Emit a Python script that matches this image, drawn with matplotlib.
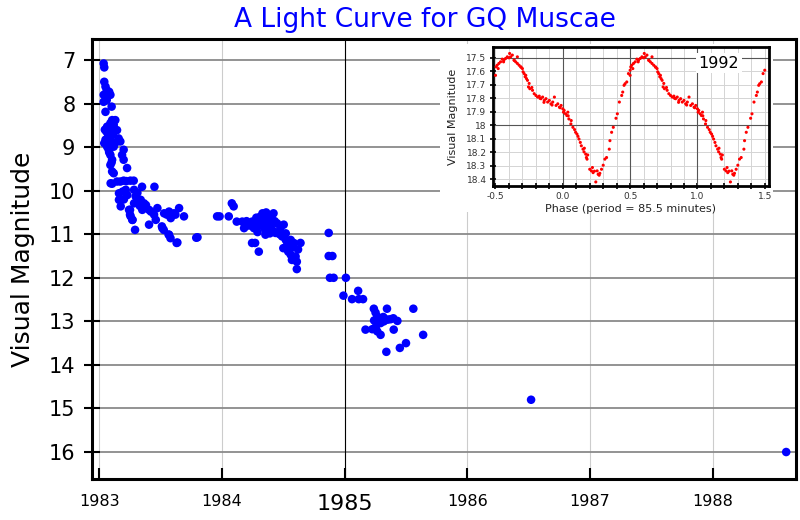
import matplotlib
matplotlib.use('Agg')
import matplotlib.pyplot as plt
from matplotlib.patches import Rectangle
import numpy as np

# Visual magnitude estimates of the nova, 1983 - 1988
years = [
    1983.035, 1983.04, 1983.04, 1983.05, 1983.06, 1983.08, 1983.035, 1983.06, 1983.09, 1983.06,
    1983.035, 1983.10, 1983.05,
    1983.104, 1983.13, 1983.117, 1983.09, 1983.063, 1983.057, 1983.104, 1983.144, 1983.157, 1983.076,
    1983.05, 1983.09, 1983.063, 1983.117, 1983.171, 1983.04, 1983.07, 1983.11, 1983.045, 1983.085, 1983.13,
    1983.198, 1983.185, 1983.198, 1983.09, 1983.104, 1983.09, 1983.104, 1983.117, 1983.226, 1983.076,
    1983.08, 1983.10,
    1983.104, 1983.144, 1983.171, 1983.198, 1983.253, 1983.28, 1983.348, 1983.449, 1983.092, 1983.22,
    1983.16, 1983.16, 1983.174, 1983.228, 1983.283, 1983.296, 1983.283, 1983.337, 1983.364, 1983.242,
    1983.255, 1983.269, 1983.405, 1983.446, 1983.473, 1983.528, 1983.568, 1983.609, 1983.65, 1983.582,
    1983.69, 1983.46, 1983.405, 1983.514, 1983.291, 1983.568, 1983.636, 1983.80, 1983.215, 1983.35,
    1983.25, 1983.25, 1983.27, 1983.51, 1983.525, 1983.565, 1983.58, 1983.63, 1983.31, 1983.33,
    1983.38, 1983.42, 1983.55, 1983.62, 1983.20, 1983.19,
    1983.96, 1983.98, 1984.055, 1984.08, 1984.095, 1984.12, 1984.165, 1984.18, 1984.245, 1984.26,
    1984.33, 1984.42, 1984.30, 1984.34, 1984.368, 1984.395, 1984.409, 1984.436, 1984.354, 1984.449,
    1984.476, 1984.503, 1984.245, 1984.27, 1984.30, 1984.49, 1984.52, 1984.56, 1984.585, 1984.64,
    1984.50, 1984.54, 1984.56, 1984.60, 1984.61, 1984.57, 1984.61, 1983.79,
    1984.28, 1984.31, 1984.36, 1984.38, 1984.40, 1984.35, 1984.29, 1984.43, 1984.46, 1984.39,
    1984.32, 1984.47, 1984.53, 1984.58, 1984.62, 1984.22, 1984.20, 1984.36, 1984.52,
    1984.87, 1984.87, 1984.90, 1984.88, 1984.91, 1985.01, 1984.99, 1985.06, 1985.115, 1985.15,
    1985.11, 1985.238, 1985.252, 1985.266, 1985.293, 1985.315, 1985.334, 1985.353, 1985.375, 1985.397,
    1985.43, 1985.293, 1985.252, 1985.225, 1985.17, 1985.266, 1985.293, 1985.40, 1985.345, 1985.56,
    1985.64, 1985.50, 1985.45, 1985.34, 1985.24, 1985.26, 1985.32,
    1986.52, 1988.60,
]
mags = [
    7.08, 7.17, 7.50, 7.61, 7.69, 7.73, 7.80, 7.80, 7.80, 7.92,
    7.96, 8.07, 8.19,
    8.38, 8.38, 8.49, 8.45, 8.53, 8.64, 8.61, 8.61, 8.80, 8.76,
    8.83, 8.87, 8.99, 8.99, 8.87, 8.91, 8.70, 8.72, 8.60, 8.95, 8.90,
    9.06, 9.18, 9.29, 9.18, 9.29, 9.41, 9.56, 9.60, 9.48, 9.06,
    9.12, 9.35,
    9.84, 9.79, 9.79, 9.77, 9.77, 9.77, 9.91, 9.91, 9.83, 9.78,
    10.06, 10.21, 10.36, 10.10, 9.98, 10.13, 10.29, 10.21, 10.29, 10.44,
    10.59, 10.67, 10.44, 10.55, 10.40, 10.52, 10.48, 10.52, 10.40, 10.63,
    10.59, 10.67, 10.78, 10.86, 10.90, 11.01, 11.19, 11.07, 9.98, 10.44,
    10.44, 10.55, 10.67, 10.82, 10.90, 11.01, 11.09, 11.20, 10.05, 10.35,
    10.33, 10.48, 10.55, 10.55, 10.20, 10.02,
    10.59, 10.59, 10.59, 10.29, 10.36, 10.71, 10.71, 10.86, 10.71, 10.86,
    10.52, 10.52, 10.75, 10.75, 10.82, 10.67, 10.90, 10.97, 11.01, 10.75,
    10.86, 10.78, 11.20, 11.20, 11.40, 11.05, 11.13, 11.13, 11.20, 11.20,
    11.32, 11.40, 11.47, 11.51, 11.63, 11.59, 11.80, 11.08,
    10.62, 10.60, 10.65, 10.58, 10.78, 10.88, 10.95, 10.70, 10.95, 10.98,
    10.80, 11.00, 11.25, 11.30, 11.35, 10.80, 10.70, 10.50, 10.98,
    10.97, 11.50, 11.50, 12.00, 12.00, 12.00, 12.41, 12.49, 12.49, 12.49,
    12.30, 12.71, 12.80, 12.89, 12.93, 12.90, 12.96, 12.96, 12.95, 12.93,
    12.99, 13.04, 13.16, 13.18, 13.19, 13.23, 13.31, 13.19, 12.71, 12.71,
    13.31, 13.50, 13.61, 13.70, 12.98, 13.08, 13.00,
    14.80, 16.00,
]

# 1992 photometry folded on the 85.5 minute orbital period (one cycle)
phase = [
    -0.5, -0.495, -0.4875, -0.475, -0.4625, -0.45, -0.4375, -0.425, -0.4125, -0.40,
    -0.395, -0.3875, -0.375, -0.3625, -0.35, -0.3375, -0.3375, -0.325, -0.3125, -0.30,
    -0.295, -0.2875, -0.275, -0.27, -0.2625, -0.25, -0.255, -0.245, -0.225, -0.2125,
    -0.20, -0.1875, -0.175, -0.1625, -0.15, -0.1375, -0.125, -0.1125, -0.10, -0.0875,
    -0.075, -0.0625, -0.05, -0.0375, -0.025, -0.0125, 0.0, 0.005, 0.02, 0.03,
    0.0375, 0.045, 0.0625, 0.075, 0.0875, 0.095, 0.105, 0.1125, 0.12, 0.13,
    0.1375, 0.15, 0.1575, 0.17, 0.175, 0.18, 0.20, 0.2125, 0.22, 0.225,
    0.245, 0.255, 0.2625, 0.275, 0.2875, 0.30, 0.3125, 0.325, 0.345, 0.35,
    0.3625, 0.375, 0.395, 0.405, 0.42, 0.4375, 0.445, 0.455, 0.4625, 0.475,
    0.4875, 0.50,
    0.01, -0.02, 0.06, -0.17, -0.14, -0.08, 0.16, 0.185, 0.235, 0.27,
    -0.28, -0.44, -0.48, -0.36, 0.04, -0.23, -0.31,
]
phase_mag = [
    17.63, 17.567, 17.555, 17.542, 17.53, 17.51, 17.517, 17.505, 17.493, 17.50,
    17.468, 17.493, 17.48, 17.517, 17.53, 17.493, 17.542, 17.555, 17.567, 17.58,
    17.604, 17.617, 17.63, 17.654, 17.667, 17.69, 17.716, 17.729, 17.741, 17.766,
    17.779, 17.791, 17.784, 17.803, 17.791, 17.816, 17.803, 17.828, 17.816, 17.841,
    17.828, 17.791, 17.853, 17.841, 17.866, 17.853, 17.878, 17.903, 17.915, 17.928,
    17.903, 17.953, 17.965, 18.015, 18.032, 18.052, 18.065, 18.082, 18.102, 18.127,
    18.152, 18.177, 18.197, 18.214, 18.239, 18.251, 18.326, 18.338, 18.313, 18.351,
    18.42, 18.338, 18.363, 18.356, 18.326, 18.296, 18.251, 18.239, 18.177, 18.114,
    18.052, 18.015, 17.948, 17.915, 17.828, 17.779, 17.754, 17.704, 17.692, 17.679,
    17.617, 17.592,
    17.89, 17.87, 17.99, 17.80, 17.83, 17.85, 18.17, 18.22, 18.34, 18.37,
    17.64, 17.53, 17.58, 17.52, 17.93, 17.72, 17.57,
]

year_ticks = [1983, 1984, 1985, 1986, 1987, 1988]
mag_ticks = [7, 8, 9, 10, 11, 12, 13, 14, 15, 16]
inset_yticks = [17.5, 17.6, 17.7, 17.8, 17.9, 18.0, 18.1, 18.2, 18.3, 18.4]
inset_ylabels = ['17.5', '17.6', '17.7', '17.8', '17.9', '18', '18.1', '18.2', '18.3', '18.4']
inset_xticks = [-0.5, 0.0, 0.5, 1.0, 1.5]
inset_xlabels = ['-0.5', '0.0', '0.5', '1.0', '1.5']

fig = plt.figure(figsize=(8, 5.2), dpi=100)
ax = fig.add_axes([0.115, 0.0788, 0.88, 0.846])

ax.scatter(years, mags, s=38, color='#0000ff', edgecolors='none', zorder=3)
ax.set_xlim(1982.94, 1988.68)
ax.set_ylim(16.62, 6.52)

ax.set_yticks(mag_ticks)
ax.set_yticklabels([str(m) for m in mag_ticks], fontsize=15)
ax.set_xticks(year_ticks)
ax.set_xticklabels([str(y) for y in year_ticks], fontsize=11.5)
for lab in ax.get_xticklabels():
    if lab.get_text() == '1985':
        lab.set_fontsize(16)
ax.xaxis.get_major_ticks()[2].tick1line.set_markeredgewidth(2.5)

ax.tick_params(axis='y', direction='inout', length=12, width=1.5, pad=6)
ax.tick_params(axis='x', direction='in', length=8, width=1.5, pad=11)

ax.set_axisbelow(True)
ax.yaxis.grid(True, color='#8a8a8a', lw=1.3)
ax.xaxis.grid(True, color='#cccccc', lw=0.8)
ax.axvline(1985, color='black', lw=0.8, zorder=0.8)
for s in ax.spines.values():
    s.set_linewidth(2.2)

ax.set_ylabel('Visual Magnitude', fontsize=18, labelpad=10)
fig.text(0.531, 0.9615, 'A Light Curve for GQ Muscae', fontsize=19, color='#0000ff',
         ha='center', va='center')

# white panel behind the inset so the main grid does not show through
ax.add_patch(Rectangle((0.55, 0.592), 0.416, 0.323, transform=fig.transFigure,
                       facecolor='white', edgecolor='none', zorder=5, clip_on=False))

# inset: phase folded 1992 light curve
ax2 = fig.add_axes([0.616, 0.6423, 0.345, 0.2673])
ph = np.array(phase)
ax2.scatter(np.concatenate([ph, ph + 1]), phase_mag + phase_mag, s=5, color='#ff0000',
            edgecolors='none', zorder=3)
ax2.set_xlim(-0.52, 1.53)
ax2.set_ylim(18.45, 17.42)

ax2.set_xticks(inset_xticks)
ax2.set_xticklabels(inset_xlabels, fontsize=6.5, color='#333333')
ax2.set_xticks(np.arange(-0.5, 1.51, 0.1), minor=True)
ax2.set_yticks(inset_yticks)
ax2.set_yticklabels(inset_ylabels, fontsize=6.5, color='#333333')
ax2.tick_params(which='both', direction='inout', length=5, width=1.2, pad=2)
ax2.set_axisbelow(True)
ax2.grid(True, which='both', color='#d4d4d4', lw=0.7)
for v in [0.0, 0.5, 1.0]:
    ax2.axvline(v, color='#555555', lw=0.8, zorder=1)
for h in [17.5, 18.0]:
    ax2.axhline(h, color='#555555', lw=0.8, zorder=1)
for s in ax2.spines.values():
    s.set_linewidth(2)

ax2.set_xlabel('Phase (period = 85.5 minutes)', fontsize=8, labelpad=2, color='#222222')
ax2.set_ylabel('Visual Magnitude', fontsize=8, labelpad=6, color='#222222')
ax2.text(1.159, 17.54, '1992', fontsize=11.5, ha='center', va='center', zorder=4,
         bbox=dict(facecolor='white', edgecolor='none', pad=2))

fig.savefig('out.png', dpi=100)
